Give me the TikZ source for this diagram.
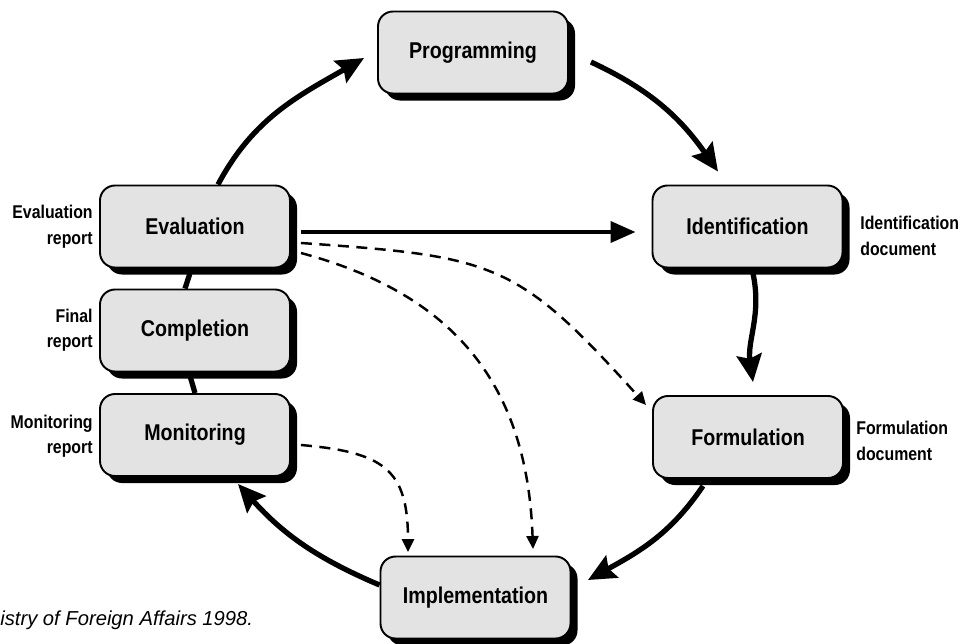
\documentclass[tikz,border=0pt]{standalone}
\usepackage{fontspec}
\usepackage{tikz}
\usetikzlibrary{positioning,shadows,arrows.meta}
\newfontfamily\boxfont{Liberation Sans}[FakeStretch=0.86]
\newfontfamily\capfont{Liberation Sans}
\tikzset {
    style A/.style={
        fill=black!11,
        draw=black,
        line width=1.1pt,
        rectangle, % Set the shape as a rectangle
        rounded corners=.3cm,
        minimum width=3.8cm,
        minimum height=1.64cm,
        align=center,
        font=\boxfont\bfseries\fontsize{13}{15}\selectfont,
        drop shadow={shadow xshift=0.14cm, shadow yshift=-0.14cm, fill=black, opacity=1},
    },
    style B/.style={
        inner sep=0pt,
        font=\boxfont\bfseries\fontsize{10.5}{14.5}\selectfont,
    },
    style C/.style={
        draw=black,
        line width=3pt,
        -{Stealth[length=0.55cm, width=0.5cm, inset=0.08cm]},
    },
    style D/.style={
        draw=black,
        line width=1.4pt,
        dash pattern=on 0.22cm off 0.15cm,
        -{Triangle[length=0.26cm, width=0.24cm]},
    },
    style E/.style={
        draw=black,
        line width=2.2pt,
        -{Triangle[length=0.5cm, width=0.42cm]},
    },
}
\begin{document}
\begin{tikzpicture}
\useasboundingbox (0,0) rectangle (19.3,12.86);

\node[style A] at (9.46, 11.81) (programming) {Programming};
\node[style A] at (3.90, 8.33) (evaluation) {Evaluation};
\node[style A] at (3.90, 6.25) (completion) {Completion};
\node[style A] at (3.90, 4.16) (monitoring) {Monitoring};
\node[style A] at (14.95, 8.33) (identification) {Identification};
\node[style A] at (14.96, 4.12) (formulation) {Formulation};
\node[style A] at (9.51, 0.91) (implementation) {Implementation};

\node[style B, anchor=east, align=right] at (1.86, 8.33) (evalReport) {Evaluation\\report};
\node[style B, anchor=east, align=right] at (1.86, 6.26) (finalReport) {Final\\report};
\node[style B, anchor=east, align=right] at (1.86, 4.14) (monReport) {Monitoring\\report};
\node[style B, anchor=west, align=left] at (17.20, 8.14) (idDocument) {Identification\\document};
\node[style B, anchor=west, align=left] at (17.12, 4.04) (formDocument) {Formulation\\document};

\node[anchor=base west, inner sep=0pt, font=\capfont\itshape\fontsize{11.5}{13}\selectfont] at (0, 0.36) (source) {istry of Foreign Affairs 1998.};

% the cycle
\draw[style C] ([xshift=0.46cm]evaluation.north) to[out=62, in=210] ([xshift=-0.26cm, yshift=-0.11cm]programming.west);
\draw[style C] ([xshift=0.44cm, yshift=-0.19cm]programming.east) to[out=-25, in=125] ([xshift=-0.59cm, yshift=0.26cm]identification.north);
\draw[style C] ([xshift=0.11cm, yshift=-0.1cm]identification.south) to[out=-78, in=98] ([xshift=0.1cm, yshift=0.26cm]formulation.north);
\draw[style C] ([xshift=-0.9cm, yshift=-0.14cm]formulation.south) to[out=236, in=29] ([xshift=0.33cm, yshift=0.35cm]implementation.east);
\draw[style C] ([yshift=0.25cm]implementation.west) to[out=157, in=-48] ([xshift=0.86cm, yshift=-0.14cm]monitoring.south);
\draw[line width=3pt] ([xshift=-0.07cm]evaluation.south) -- ([xshift=-0.2cm]completion.north);
\draw[line width=3pt] ([xshift=-0.12cm]completion.south) -- (monitoring.north);

% feedback
\draw[style E] ([xshift=0.2cm, yshift=-0.11cm]evaluation.east) -- ([xshift=-0.32cm, yshift=-0.11cm]identification.west);
\draw[style D] ([xshift=0.2cm, yshift=-0.33cm]evaluation.east) to[out=-4, in=132, looseness=1.3] ([xshift=-0.12cm, yshift=0.64cm]formulation.west);
\draw[style D] ([xshift=0.2cm, yshift=-0.53cm]evaluation.east) to[out=-15, in=92, looseness=1.1] ([xshift=1.15cm, yshift=0.13cm]implementation.north);
\draw[style D] ([xshift=0.2cm, yshift=-0.2cm]monitoring.east) to[out=-5, in=90, looseness=1.4] ([xshift=-1.35cm, yshift=0.07cm]implementation.north);
\end{tikzpicture}
\end{document}
